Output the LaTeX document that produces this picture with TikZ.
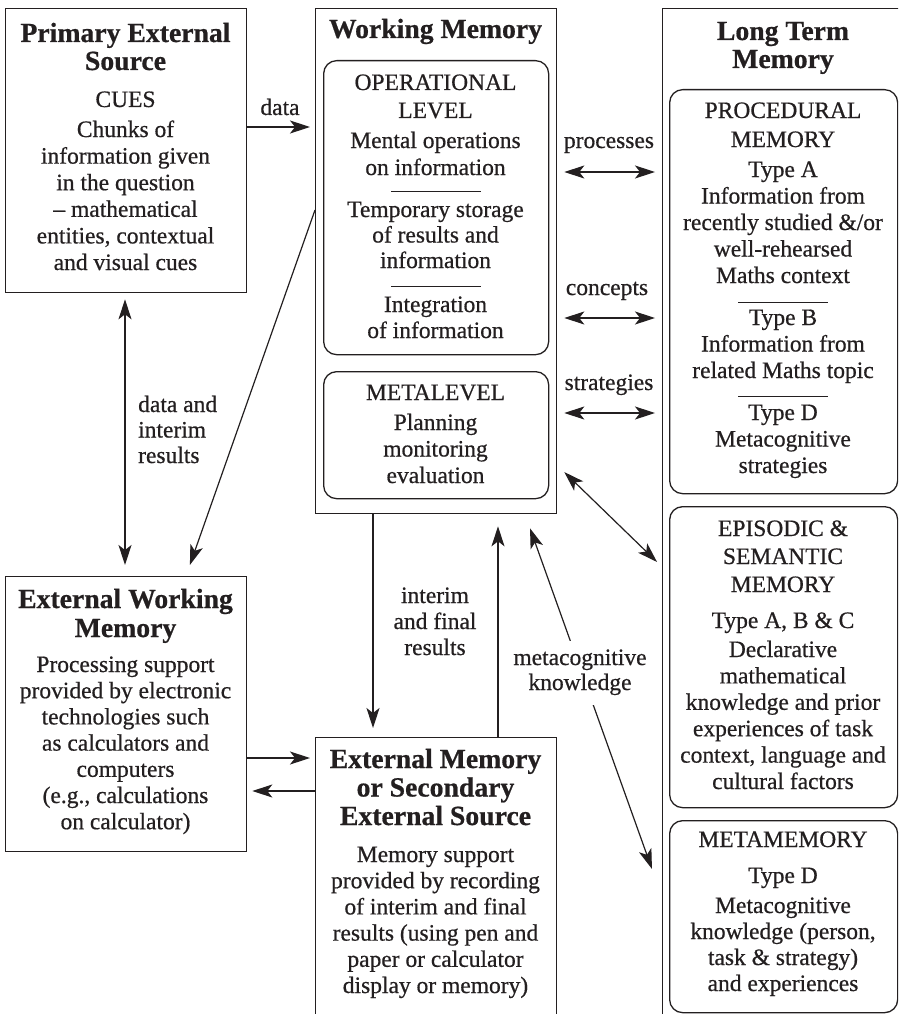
\documentclass[tikz,border=0pt]{standalone}
\usepackage{fontspec}
\setmainfont{Liberation Serif}[FakeBold=0.6]
\usetikzlibrary{arrows.meta}
\definecolor{ink}{RGB}{35,31,32}
\newcommand\fsz[1]{\fontsize{23.5}{#1}\selectfont}
\newcommand\bsz[1]{\fontsize{27.7}{#1}\selectfont\bfseries}
\newcommand\lns[1]{\begin{tabular}[t]{@{}c@{}}#1\end{tabular}}
\newcommand\lnsl[1]{\begin{tabular}[t]{@{}l@{}}#1\end{tabular}}
\tikzset{
  box/.style={draw=ink, line width=1.3pt, rectangle, inner sep=0pt, anchor=north west},
  rbox/.style={box, rounded corners=13pt},
  txt/.style={anchor=base, inner sep=0pt, text=ink, font=\fsz{26.5}},
  ttl/.style={txt, font=\bsz{28}},
  arr/.style={draw=ink, line width=1.2pt, -{Stealth[length=20pt,width=13pt,inset=5pt]}},
  darr/.style={draw=ink, line width=1.2pt, {Stealth[length=20pt,width=13pt,inset=5pt]}-{Stealth[length=20pt,width=13pt,inset=5pt]}},
  rulel/.style={draw=ink, line width=1pt}
}
\begin{document}
\begin{tikzpicture}[x=1pt,y=-1pt]
\useasboundingbox (0,0) rectangle (898,1014);
\clip (0,0) rectangle (898,1014);
\fill[white] (0,0) rectangle (898,1014);

% ---------- boxes ----------
\node[box, minimum width=241pt, minimum height=284pt] (pes) at (5,8) {};
\node[box, minimum width=241pt, minimum height=505pt] (wm) at (315,8) {};
\node[rbox, minimum width=225pt, minimum height=294pt] (op) at (323,60) {};
\node[rbox, minimum width=225pt, minimum height=127pt] (meta) at (323,371) {};
\node[box, minimum width=260pt, minimum height=1030pt] (ltm) at (662,8) {};
\node[rbox, minimum width=228pt, minimum height=404pt] (proc) at (669,89) {};
\node[rbox, minimum width=228pt, minimum height=301pt] (epi) at (669,506) {};
\node[rbox, minimum width=228pt, minimum height=192pt] (mm) at (669,820) {};
\node[box, minimum width=241pt, minimum height=275pt] (ewm) at (5,576) {};
\node[box, minimum width=241pt, minimum height=300pt] (em) at (315,737) {};

% ---------- Primary External Source ----------
\node[ttl] (pesT) at (125.5,42) {\lns{Primary External\\Source}};
\node[txt] (pesC) at (125.5,107) {CUES};
\node[txt, font=\fsz{26.6}] (pesB) at (125.5,137) {\lns{Chunks of\\information given\\in the question\\– mathematical\\entities, contextual\\and visual cues}};

% ---------- Working Memory ----------
\node[ttl] (wmT) at (435.5,38) {Working Memory};
\node[txt, font=\fsz{28}] (opT) at (435.5,90) {\lns{OPERATIONAL\\LEVEL}};
\node[txt, font=\fsz{27}] (op1) at (435.5,148) {\lns{Mental operations\\on information}};
\draw[rulel] (391,191) -- (481,191);
\node[txt, font=\fsz{25.5}] (op2) at (435.5,217) {\lns{Temporary storage\\of results and\\information}};
\draw[rulel] (391,286) -- (481,286);
\node[txt, font=\fsz{26}] (op3) at (435.5,312) {\lns{Integration\\of information}};
\node[txt] (metaT) at (435.5,400) {METALEVEL};
\node[txt, font=\fsz{26.5}] (metaB) at (435.5,430) {\lns{Planning\\monitoring\\evaluation}};

% ---------- Long Term Memory ----------
\node[ttl] (ltmT) at (783,40) {\lns{Long Term\\Memory}};
\node[txt, font=\fsz{29}] (procT) at (783,118) {\lns{PROCEDURAL\\MEMORY}};
\node[txt, font=\fsz{26.5}] (procA) at (783,177) {\lns{Type A\\Information from\\recently studied \&/or\\well-rehearsed\\Maths context}};
\draw[rulel] (738,302) -- (828,302);
\node[txt, font=\fsz{26.5}] (procB) at (783,325) {\lns{Type B\\Information from\\related Maths topic}};
\draw[rulel] (738,396) -- (828,396);
\node[txt, font=\fsz{26.5}] (procD) at (783,420) {\lns{Type D\\Metacognitive\\strategies}};
\node[txt, font=\fsz{28}] (epiT) at (783,536) {\lns{EPISODIC \&\\SEMANTIC\\MEMORY}};
\node[txt] (epiS) at (783,628) {Type A, B \& C};
\node[txt, font=\fsz{26.4}] (epiB) at (783,657) {\lns{Declarative\\mathematical\\knowledge and prior\\experiences of task\\context, language and\\cultural factors}};
\node[txt] (mmT) at (783,847) {METAMEMORY};
\node[txt] (mmS) at (783,883) {Type D};
\node[txt, font=\fsz{26}] (mmB) at (783,913) {\lns{Metacognitive\\knowledge (person,\\task \& strategy)\\and experiences}};

% ---------- External Working Memory ----------
\node[ttl, font=\bsz{29}] (ewmT) at (125.5,608) {\lns{External Working\\Memory}};
\node[txt, font=\fsz{26.2}] (ewmB) at (125.5,672) {\lns{Processing support\\provided by electronic\\technologies such\\as calculators and\\computers\\(e.g., calculations\\on calculator)}};

% ---------- External Memory ----------
\node[ttl, font=\bsz{28.5}] (emT) at (435.5,768) {\lns{External Memory\\or Secondary\\External Source}};
\node[txt, font=\fsz{26.2}] (emB) at (435.5,862) {\lns{Memory support\\provided by recording\\of interim and final\\results (using pen and\\paper or calculator\\display or memory)}};

% ---------- connectors ----------
\draw[arr, shorten >=5pt] (pes.east |- 0,127) -- (wm.west |- 0,127);
\draw[darr, shorten <=7pt, shorten >=7pt] (wm.east |- 0,172) -- (ltm.west |- 0,172);
\draw[darr, shorten <=7pt, shorten >=7pt] (wm.east |- 0,318) -- (ltm.west |- 0,318);
\draw[darr, shorten <=7pt, shorten >=7pt] (wm.east |- 0,413) -- (ltm.west |- 0,413);
\draw[darr, shorten <=6pt, shorten >=11pt] (pes.south -| 125,0) -- (ewm.north -| 125,0);
\draw[arr, shorten >=11.7pt] (wm.west |- 0,210) -- (ewm.north -| 186,0);
\draw[arr, shorten >=9pt] (wm.south -| 373,0) -- (em.north -| 373,0);
\draw[arr, shorten >=12pt] (em.north -| 498,0) -- (wm.south -| 498,0);
\draw[arr, shorten >=5pt] (ewm.east |- 0,758) -- (em.west |- 0,758);
\draw[arr, shorten >=5pt] (em.west |- 0,791) -- (ewm.east |- 0,791);
\draw[darr, shorten <=9.7pt, shorten >=6.9pt] (wm.east |- 0,465.3) -- (ltm.west |- 0,566.8);
\draw[darr, shorten <=14.9pt, shorten >=29.8pt] (wm.south -| 525,0) -- (ltm.west |- 0,897);

% ---------- connector labels ----------
\node[txt] (lData) at (280,115) {data};
\node[txt] (lProc) at (609,148) {processes};
\node[txt] (lConc) at (607,295) {concepts};
\node[txt] (lStra) at (609,390) {strategies};
\node[txt, font=\fsz{25.5}, anchor=base west] (lDI) at (138,412) {\lnsl{data and\\interim\\results}};
\node[txt, font=\fsz{26}] (lIF) at (435,603) {\lns{interim\\and final\\results}};
\node[txt, font=\fsz{25}, fill=white, inner xsep=2pt, inner ysep=7pt] (lMK) at (580,665) {\lns{metacognitive\\knowledge}};
\end{tikzpicture}
\end{document}
